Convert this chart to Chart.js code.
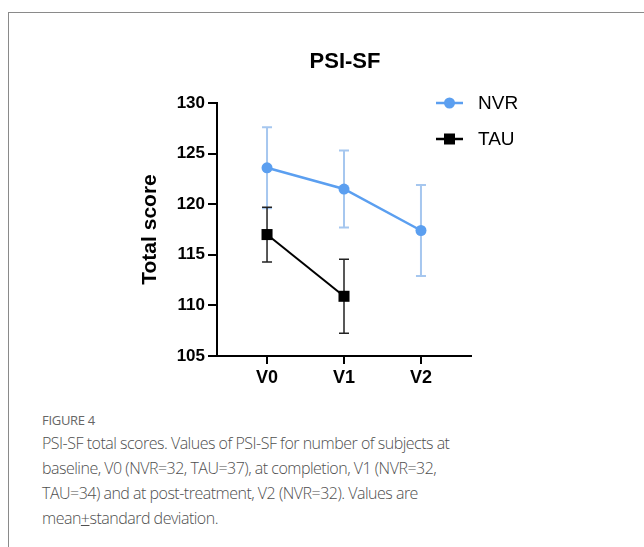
<!DOCTYPE html>
<html>
<head>
<meta charset="utf-8">
<script src="https://cdn.jsdelivr.net/npm/chart.js@4/dist/chart.umd.min.js"></script>
<style>
  html, body { margin: 0; padding: 0; background: #fff; }
  body { width: 644px; height: 547px; position: relative; overflow: hidden; }
  #frame { position: absolute; left: 8px; top: 12px; width: 700px; height: 600px;
           border-left: 1px solid #8a8a8a; border-top: 1px solid #8a8a8a; }
  #wrap { position: absolute; left: 0; top: 0; width: 644px; height: 400px; }
  #fig { position: absolute; left: 42px; top: 411px; font-family: "Open Sans", "Noto Sans", sans-serif;
         color: #666; font-size: 13px; letter-spacing: -0.3px; }
  #cap { position: absolute; left: 42px; top: 431px; width: 445px; font-family: "Open Sans", "Noto Sans", sans-serif;
         color: #4f4f4f; font-size: 16px; line-height: 25px; font-weight: 300; letter-spacing: -0.5px; }
  .u { text-decoration: underline; }
</style>
</head>
<body>
<div id="frame"></div>
<div id="wrap"><canvas id="c" width="644" height="400"></canvas></div>
<div id="fig">FIGURE 4</div>
<div id="cap">PSI-SF total scores. Values of PSI-SF for number of subjects at baseline, V0 (NVR=32, TAU=37), at completion, V1 (NVR=32, TAU=34) and at post-treatment, V2 (NVR=32). Values are mean<span class="u">+</span>standard deviation.</div>
<script>
const categories = ["V0", "V1", "V2"];
const nvrMean = [123.6, 121.5, 117.4];
const nvrSD   = [4.0, 3.8, 4.5];
const tauMean = [117.0, 110.9];
const tauSD   = [2.7, 3.65];
const yTicks  = [105, 110, 115, 120, 125, 130];
const chartTitle = "PSI-SF";

const NVR_COLOR = "#5b9ff0";
const NVR_ERR = "#a6c7ef";
const TAU_COLOR = "#000000";
const FONT = "'Liberation Sans', Arial, sans-serif";

const errorBars = {
  id: "errorBars",
  beforeDatasetsDraw(chart) {
    const ctx = chart.ctx;
    const xs = chart.scales.x, ys = chart.scales.y;
    chart.data.datasets.forEach((ds) => {
      ctx.save();
      ctx.strokeStyle = ds.errColor;
      ctx.lineWidth = ds.errWidth;
      ds.data.forEach((p, i) => {
        const sd = ds.sd[i];
        const x = xs.getPixelForValue(p.x);
        const yt = ys.getPixelForValue(p.y + sd);
        const yb = ys.getPixelForValue(p.y - sd);
        ctx.beginPath();
        ctx.moveTo(x, yt); ctx.lineTo(x, yb);
        ctx.moveTo(x - 5, yt); ctx.lineTo(x + 5, yt);
        ctx.moveTo(x - 5, yb); ctx.lineTo(x + 5, yb);
        ctx.stroke();
      });
      ctx.restore();
    });
  },
  afterDraw(chart) {
    const ctx = chart.ctx;
    const area = chart.chartArea;
    ctx.save();
    ctx.fillStyle = "#000";
    ctx.font = "bold 22px " + FONT;
    ctx.textAlign = "center";
    ctx.textBaseline = "middle";
    ctx.fillText(chartTitle, (area.left + area.right) / 2 + 1, area.top - 41);
    ctx.restore();
    const lx = area.right - 35;
    chart.data.datasets.forEach((ds, k) => {
      const y = area.top + k * 36;
      ctx.save();
      ctx.strokeStyle = ds.borderColor;
      ctx.lineWidth = 2.5;
      ctx.beginPath();
      ctx.moveTo(lx, y); ctx.lineTo(lx + 27, y);
      ctx.stroke();
      ctx.fillStyle = ds.borderColor;
      if (ds.pointStyle === "rect") {
        ctx.fillRect(lx + 13.5 - 5.5, y - 5.5, 11, 11);
      } else {
        ctx.beginPath(); ctx.arc(lx + 13.5, y, 5.5, 0, Math.PI * 2); ctx.fill();
      }
      ctx.fillStyle = "#000";
      ctx.font = "19px " + FONT;
      ctx.textBaseline = "middle";
      ctx.fillText(ds.label, lx + 42, y + 1);
      ctx.restore();
    });
  }
};

new Chart(document.getElementById("c"), {
  type: "line",
  data: {
    datasets: [
      {
        label: "NVR",
        data: nvrMean.map((v, i) => ({ x: i, y: v })),
        sd: nvrSD,
        borderColor: NVR_COLOR,
        backgroundColor: NVR_COLOR,
        borderWidth: 2.5,
        pointRadius: 5.5,
        pointStyle: "circle",
        pointBorderWidth: 0,
        errColor: NVR_ERR,
        errWidth: 2,
      },
      {
        label: "TAU",
        data: tauMean.map((v, i) => ({ x: i, y: v })),
        sd: tauSD,
        borderColor: TAU_COLOR,
        backgroundColor: TAU_COLOR,
        borderWidth: 2,
        pointRadius: 7.8,
        pointStyle: "rect",
        pointBorderWidth: 0,
        errColor: "#222",
        errWidth: 1.5,
      }
    ]
  },
  options: {
    responsive: false,
    animation: false,
    devicePixelRatio: 1,
    layout: { padding: { left: 135, right: 173, top: 103, bottom: 0 } },
    plugins: {
      legend: { display: false },
      tooltip: { enabled: false },
      title: { display: false }
    },
    scales: {
      x: {
        type: "linear",
        min: -0.65, max: 2.65,
        afterBuildTicks: (s) => { s.ticks = categories.map((c, i) => ({ value: i })); },
        afterFit: (s) => { s.height = 44; },
        ticks: {
          callback: (v) => categories[v],
          color: "#000",
          font: { family: FONT, size: 18, weight: "bold" },
          padding: 3,
          maxRotation: 0
        },
        grid: { drawOnChartArea: false, drawTicks: true, tickLength: 8, color: "#000", lineWidth: 2 },
        border: { display: true, color: "#000", width: 2 }
      },
      y: {
        min: 105, max: 130,
        afterBuildTicks: (s) => { s.ticks = yTicks.map(v => ({ value: v })); },
        afterFit: (s) => { s.width = 82; },
        title: {
          display: true,
          text: "Total score",
          color: "#000",
          font: { family: FONT, size: 21, weight: "bold" },
          padding: { top: 3, bottom: 0 }
        },
        ticks: {
          color: "#000",
          font: { family: FONT, size: 17, weight: "bold" },
          padding: 3
        },
        grid: { drawOnChartArea: false, drawTicks: true, tickLength: 9, color: "#000", lineWidth: 2 },
        border: { display: true, color: "#000", width: 2 }
      }
    }
  },
  plugins: [errorBars]
});
</script>
</body>
</html>
